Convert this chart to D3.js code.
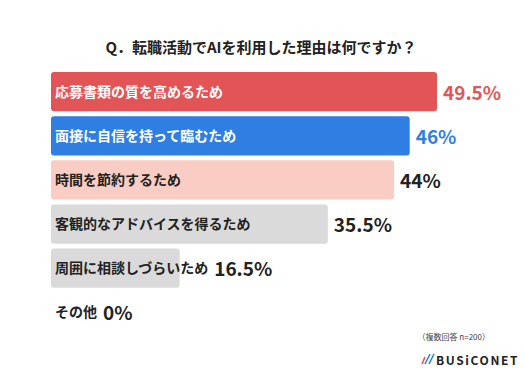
<!DOCTYPE html>
<html>
<head>
<meta charset="utf-8">
<script src="https://cdn.jsdelivr.net/npm/d3@7"></script>
<style>
  body { margin: 0; background: #fff; }
  text { font-family: "Noto Sans CJK JP", "Noto Sans", sans-serif; }
</style>
</head>
<body>
<script>
const categories = ["応募書類の質を高めるため", "面接に自信を持って臨むため", "時間を節約するため",
                    "客観的なアドバイスを得るため", "周囲に相談しづらいため", "その他"];
const values = [49.5, 46, 44, 35.5, 16.5, 0];
const valueLabels = ["49.5%", "46%", "44%", "35.5%", "16.5%", "0%"];
const barColors = ["#e35457", "#2f7fe3", "#f9cdc4", "#dadada", "#dadada", "#dadada"];
const labelColors = ["#ffffff", "#ffffff", "#222222", "#222222", "#222222", "#222222"];
const valueColors = ["#e35457", "#2f7fe3", "#222222", "#222222", "#222222", "#222222"];

const width = 525, height = 375;
const svg = d3.select("body").append("svg")
    .attr("width", width)
    .attr("height", height);

// title
svg.append("text")
    .attr("x", 261).attr("y", 53)
    .attr("text-anchor", "middle")
    .attr("font-size", 15).attr("font-weight", "bold")
    .attr("fill", "#222")
    .text("Q．転職活動でAIを利用した理由は何ですか？");

const x = d3.scaleLinear().domain([0, 49.5]).range([51, 437]);
const y = d3.scaleBand().domain(categories).range([72, 332]).paddingInner(0.11).paddingOuter(0);

const rows = svg.selectAll("g.row")
    .data(categories)
    .enter().append("g").attr("class", "row");

rows.append("rect")
    .attr("x", x(0))
    .attr("y", d => y(d))
    .attr("width", (d, i) => x(values[i]) - x(0))
    .attr("height", y.bandwidth())
    .attr("rx", 3)
    .attr("fill", (d, i) => barColors[i]);

const labels = rows.append("text")
    .attr("x", 55)
    .attr("y", d => y(d) + y.bandwidth() / 2 + 5)
    .attr("font-size", 14).attr("font-weight", "bold")
    .attr("fill", (d, i) => labelColors[i])
    .text(d => d);

labels.each(function(d, i) {
    const labelEnd = 55 + this.getComputedTextLength();
    const vx = Math.max(x(values[i]), labelEnd) + 6;
    d3.select(this.parentNode).append("text")
        .attr("x", vx)
        .attr("y", y(d) + y.bandwidth() / 2 + 8)
        .attr("font-size", 19).attr("font-weight", "bold")
        .attr("fill", valueColors[i])
        .text(valueLabels[i]);
});

// note
svg.append("text")
    .attr("x", 490).attr("y", 340)
    .attr("text-anchor", "end")
    .attr("font-size", 8)
    .attr("fill", "#444")
    .text("（複数回答 n=200）");

// logo
const logo = svg.append("g").attr("transform", "translate(420,360)");
logo.append("line").attr("x1", 2).attr("y1", 4).attr("x2", 5).attr("y2", -3)
    .attr("stroke", "#e35457").attr("stroke-width", 1.6);
logo.append("line").attr("x1", 5).attr("y1", 4).attr("x2", 10).attr("y2", -6)
    .attr("stroke", "#2f7fe3").attr("stroke-width", 1.6);
logo.append("line").attr("x1", 9).attr("y1", 4).attr("x2", 14).attr("y2", -6)
    .attr("stroke", "#2f7fe3").attr("stroke-width", 1.6);
logo.append("text")
    .attr("x", 16).attr("y", 5)
    .attr("font-size", 12).attr("font-weight", "bold")
    .attr("letter-spacing", 1.6)
    .attr("fill", "#222")
    .text("BUSiCONET");
</script>
</body>
</html>
